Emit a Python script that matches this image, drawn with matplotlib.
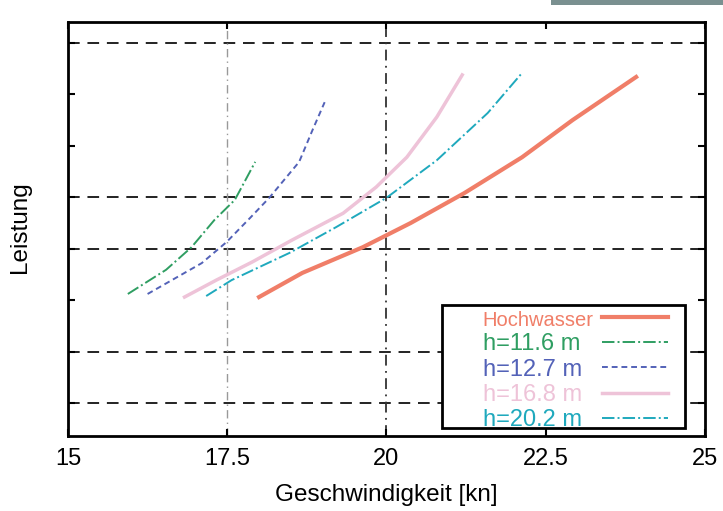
import matplotlib
matplotlib.use('Agg')
import matplotlib.pyplot as plt
from matplotlib.patches import Rectangle

plt.rcParams['font.family'] = ['Liberation Sans', 'DejaVu Sans']

# speed (kn) / power (arbitrary units)
hoch_x = [18.0, 18.68, 19.63, 20.38, 21.22, 22.13, 22.92, 23.92]
hoch_y = [2.06, 2.53, 3.03, 3.50, 4.08, 4.78, 5.50, 6.34]

h116_x = [15.94, 16.54, 16.94, 17.30, 17.62, 17.94]
h116_y = [2.12, 2.59, 3.03, 3.56, 3.95, 4.69]

h127_x = [16.25, 17.10, 17.49, 17.86, 18.16, 18.63, 18.84, 19.03]
h127_y = [2.12, 2.72, 3.13, 3.60, 3.99, 4.69, 5.31, 5.85]

h168_x = [16.83, 17.33, 17.89, 18.52, 19.32, 19.84, 20.32, 20.79, 21.19]
h168_y = [2.06, 2.39, 2.74, 3.17, 3.69, 4.20, 4.78, 5.56, 6.38]

h202_x = [17.17, 17.57, 18.48, 19.21, 20.0, 20.79, 21.59, 22.13]
h202_y = [2.08, 2.39, 2.92, 3.42, 3.99, 4.72, 5.64, 6.42]

labels = ['Hochwasser', 'h=11.6 m', 'h=12.7 m', 'h=16.8 m', 'h=20.2 m']
x_ticks = [15, 17.5, 20, 22.5, 25]
x_tick_labels = ['15', '17.5', '20', '22.5', '25']
y_ticks = [0, 1, 2, 3, 4, 5, 6, 7]
h_lines = [0, 1, 3, 4, 7]

figure = plt.figure(figsize = (7.23, 5.11), dpi = 100)
axe = figure.add_axes([0.094, 0.147, 0.881, 0.810])

for v in h_lines:
	axe.axhline(v, color = '#222222', linestyle = (0, (6, 4)), linewidth = 1.4, zorder = 1)
axe.axvline(17.5, color = '#999999', linestyle = (0, (6, 3, 1, 3)), linewidth = 1.0, zorder = 1)
axe.axvline(20, color = '#333333', linestyle = (0, (6, 3, 1, 3)), linewidth = 1.3, zorder = 1)

lines = []
lines += axe.plot(hoch_x, hoch_y, color = '#f07e68', linestyle = '-', linewidth = 3.0, zorder = 3)
lines += axe.plot(h116_x, h116_y, color = '#2f9e62', linestyle = '-.', linewidth = 1.4, zorder = 3)
lines += axe.plot(h127_x, h127_y, color = '#5362b8', linestyle = (0, (3, 2)), linewidth = 1.4, zorder = 3)
lines += axe.plot(h168_x, h168_y, color = '#eec3d8', linestyle = '-', linewidth = 2.5, zorder = 2)
lines += axe.plot(h202_x, h202_y, color = '#1fa9bd', linestyle = '-.', linewidth = 1.4, zorder = 3)

axe.set_xlim(15, 25)
axe.set_ylim(-0.64, 7.41)
axe.set_xticks(x_ticks, x_tick_labels)
axe.set_yticks(y_ticks, [''] * len(y_ticks))
axe.tick_params(direction = 'in', top = True, right = True, length = 5, width = 1.5, labelsize = 17, pad = 9)
for spine in axe.spines.values():
	spine.set_linewidth(2.0)

axe.set_xlabel('Geschwindigkeit [kn]', fontsize = 17.5, labelpad = 10)
axe.set_ylabel('Leistung', fontsize = 17.5)
axe.yaxis.set_label_coords(-0.058, 0.505)

# legend: frame, a column of coloured names and a column of line samples
axe.add_patch(Rectangle((0.588, 0.02), 0.38, 0.296, transform = axe.transAxes,
						facecolor = 'white', edgecolor = 'black', linewidth = 2.0, zorder = 4))
legend_opts = dict(fontsize = 17, frameon = False, borderpad = 0.0, labelspacing = 0.14, borderaxespad = 0.0)
legend_text = axe.legend(lines, labels, loc = 'lower left', bbox_to_anchor = (0.651, 0.011),
						 handlelength = 0, handletextpad = 0, **legend_opts)
for text, line in zip(legend_text.get_texts(), legend_text.get_lines()):
	text.set_color(line.get_color())
	line.set_visible(False)
legend_text.get_texts()[0].set_fontsize(14.5)
legend_text.set_zorder(5)
axe.add_artist(legend_text)

legend_lines = axe.legend(lines, [' '] * len(lines), loc = 'lower right', bbox_to_anchor = (0.953, 0.011),
						  handlelength = 2.8, handletextpad = 0, **legend_opts)
legend_lines.set_zorder(5)

figure.patches.append(Rectangle((0.762, 0.99), 0.238, 0.01, transform = figure.transFigure,
								facecolor = '#7a9090', edgecolor = 'none'))

figure.savefig('out.png', dpi = 100)
